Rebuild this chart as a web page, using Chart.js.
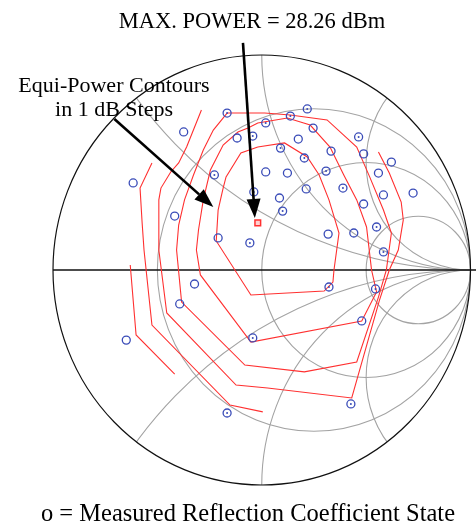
<!DOCTYPE html>
<html>
<head>
<meta charset="utf-8">
<script src="https://cdn.jsdelivr.net/npm/chart.js@4"></script>
<style>
  html, body { margin: 0; padding: 0; background: #fff; overflow: hidden; }
  canvas { display: block; }
</style>
</head>
<body>
<canvas id="smith" width="476" height="526"></canvas>
<script>
// Smith chart grid values
const resistances = [1 / 3, 1, 3];
const reactances = [0.5, 1, 2, -0.5, -1, -2];

// measured reflection coefficient states (Re, Im of gamma)
const measRe = [-0.166, -0.374, -0.118, -0.043, 0.019, 0.137, 0.218, 0.090, 0.175, 0.246,
  -0.616, -0.227, 0.019, 0.123, -0.038, 0.085, 0.100, -0.417, -0.209, -0.057,
  0.464, 0.332, 0.204, 0.488, 0.621, 0.308, 0.559, 0.213, 0.389, 0.583,
  0.725, 0.488, 0.318, 0.441, 0.550, 0.583, -0.322, -0.393, -0.649, -0.043,
  -0.166, 0.322, 0.545, 0.479, 0.427];
const measIm = [0.730, 0.642, 0.614, 0.623, 0.684, 0.716, 0.749, 0.567, 0.609, 0.660,
  0.405, 0.442, 0.456, 0.451, 0.363, 0.335, 0.274, 0.251, 0.149, 0.126,
  0.619, 0.553, 0.521, 0.540, 0.502, 0.460, 0.451, 0.377, 0.381, 0.349,
  0.358, 0.307, 0.167, 0.172, 0.200, 0.084, -0.065, -0.158, -0.326, -0.316,
  -0.665, -0.079, -0.088, -0.237, -0.623];
// states drawn with a centre dot
const dotted = [0, 3, 4, 5, 6, 7, 11, 14, 16, 19, 20, 22, 25, 28, 34, 35, 39, 40, 41, 42, 44];

// maximum power point
const maxRe = [-0.019];
const maxIm = [0.219];

// equi-power contours, 1 dB steps
const c1Re = [-0.019, 0.109, 0.218, 0.275, 0.322, 0.370, 0.346, 0.341, 0.299, -0.052, -0.218, -0.209, -0.185, -0.171, -0.100, -0.019];
const c1Im = [0.572, 0.591, 0.526, 0.442, 0.326, 0.172, 0.000, -0.056, -0.098, -0.116, 0.135, 0.279, 0.381, 0.433, 0.544, 0.572];
const c2Re = [-0.066, -0.019, 0.123, 0.232, 0.327, 0.393, 0.455, 0.502, 0.526, 0.550, 0.479, -0.052, -0.294, -0.313, -0.303, -0.280, -0.246, -0.185, -0.114, -0.066];
const c2Im = [0.660, 0.684, 0.707, 0.674, 0.572, 0.442, 0.326, 0.200, 0.000, -0.102, -0.237, -0.335, -0.023, 0.093, 0.186, 0.326, 0.465, 0.581, 0.642, 0.660];
const c3Re = [-0.166, 0.014, 0.137, 0.313, 0.455, 0.517, 0.583, 0.621, 0.597, 0.559, 0.455, 0.204, -0.081, -0.384, -0.408, -0.398, -0.370, -0.327, -0.280, -0.232, -0.166];
const c3Im = [0.730, 0.730, 0.721, 0.698, 0.572, 0.433, 0.279, 0.172, 0.000, -0.126, -0.428, -0.474, -0.442, -0.149, 0.093, 0.209, 0.326, 0.442, 0.558, 0.651, 0.730];
const c4Re = [-0.289, -0.360, -0.398, -0.436, -0.483, -0.493, -0.493, -0.455, -0.123, 0.028, 0.431, 0.564, 0.611, 0.654, 0.678, 0.668, 0.611, 0.559];
const c4Im = [0.744, 0.572, 0.498, 0.456, 0.381, 0.326, 0.093, -0.200, -0.535, -0.549, -0.595, -0.140, 0.000, 0.093, 0.233, 0.316, 0.451, 0.549];
const c5Re = [-0.526, -0.583, -0.573, -0.564, -0.526, -0.152, 0.005];
const c5Im = [0.498, 0.381, 0.219, 0.093, -0.256, -0.628, -0.660];
const c6Re = [-0.630, -0.602, -0.417];
const c6Im = [0.023, -0.302, -0.484];

// annotation arrows: [fromRe, fromIm, toRe, toIm]
const arrowMax = [-0.090, 1.056, -0.033, 0.242];
const arrowContours = [-0.706, 0.702, -0.232, 0.293];

const pts = (re, im) => re.map((v, i) => ({ x: v, y: im[i] }));

const RED = "#ff3030";
const BLUE = "#3a4cb8";
const SERIF = "'Liberation Serif', 'DejaVu Serif', serif";

const contourSet = (re, im) => ({
  type: "line", data: pts(re, im), borderColor: RED, borderWidth: 1.1,
  pointRadius: 0, fill: false, tension: 0, order: 3
});

const smithGrid = {
  id: "smithGrid",
  beforeDraw(chart) {
    const ctx = chart.ctx;
    ctx.save();
    ctx.fillStyle = "#fff";
    ctx.fillRect(0, 0, chart.width, chart.height);
    ctx.restore();
  },
  beforeDatasetsDraw(chart) {
    const { ctx, scales: { x, y } } = chart;
    const sx = x.getPixelForValue(1) - x.getPixelForValue(0);
    const sy = y.getPixelForValue(0) - y.getPixelForValue(1);
    const cx = x.getPixelForValue(0), cy = y.getPixelForValue(0);

    ctx.save();
    ctx.beginPath();
    ctx.ellipse(cx, cy, sx, sy, 0, 0, Math.PI * 2);
    ctx.clip();
    ctx.strokeStyle = "#a3a3a3";
    ctx.lineWidth = 1.1;
    resistances.forEach(r => {
      const c = r / (1 + r), rad = 1 / (1 + r);
      ctx.beginPath();
      ctx.ellipse(x.getPixelForValue(c), cy, rad * sx, rad * sy, 0, 0, Math.PI * 2);
      ctx.stroke();
    });
    reactances.forEach(xv => {
      const rad = 1 / Math.abs(xv);
      ctx.beginPath();
      ctx.ellipse(x.getPixelForValue(1), y.getPixelForValue(1 / xv), rad * sx, rad * sy, 0, 0, Math.PI * 2);
      ctx.stroke();
    });
    ctx.restore();

    ctx.save();
    ctx.strokeStyle = "#111";
    ctx.lineWidth = 1.2;
    ctx.beginPath();
    ctx.ellipse(cx, cy, sx, sy, 0, 0, Math.PI * 2);
    ctx.stroke();
    ctx.lineWidth = 1.4;
    ctx.beginPath();
    ctx.moveTo(x.getPixelForValue(-1), cy);
    ctx.lineTo(chart.width, cy);
    ctx.stroke();
    ctx.restore();
  },
  afterDraw(chart) {
    const { ctx, scales: { x, y } } = chart;

    const arrow = a => {
      const x0 = x.getPixelForValue(a[0]), y0 = y.getPixelForValue(a[1]);
      const x1 = x.getPixelForValue(a[2]), y1 = y.getPixelForValue(a[3]);
      const ang = Math.atan2(y1 - y0, x1 - x0);
      const len = 19, half = 7;
      const bx = x1 - len * Math.cos(ang), by = y1 - len * Math.sin(ang);
      ctx.beginPath();
      ctx.moveTo(x0, y0);
      ctx.lineTo(bx, by);
      ctx.stroke();
      ctx.beginPath();
      ctx.moveTo(x1, y1);
      ctx.lineTo(bx + half * Math.sin(ang), by - half * Math.cos(ang));
      ctx.lineTo(bx - half * Math.sin(ang), by + half * Math.cos(ang));
      ctx.closePath();
      ctx.fill();
    };

    ctx.save();
    ctx.strokeStyle = "#000";
    ctx.fillStyle = "#000";
    ctx.lineWidth = 2.6;
    arrow(arrowMax);
    arrow(arrowContours);

    ctx.textAlign = "center";
    ctx.textBaseline = "alphabetic";
    ctx.font = "22.5px " + SERIF;
    ctx.fillText("MAX. POWER = 28.26 dBm", 252, 28);
    ctx.font = "22px " + SERIF;
    ctx.fillText("Equi-Power Contours", 114, 92);
    ctx.fillText("in 1 dB Steps", 114, 116);
    ctx.font = "24.5px " + SERIF;
    ctx.fillText("o = Measured Reflection Coefficient State", 248, 521);
    ctx.restore();
  }
};

const plainIdx = measRe.map((_, i) => i);
const dotIdx = dotted;

new Chart(document.getElementById("smith"), {
  type: "scatter",
  data: {
    datasets: [
      contourSet(c1Re, c1Im),
      contourSet(c2Re, c2Im),
      contourSet(c3Re, c3Im),
      contourSet(c4Re, c4Im),
      contourSet(c5Re, c5Im),
      contourSet(c6Re, c6Im),
      {
        data: plainIdx.map(i => ({ x: measRe[i], y: measIm[i] })),
        pointStyle: "circle", pointRadius: 4, borderColor: BLUE, borderWidth: 1.3,
        backgroundColor: "rgba(0,0,0,0)", order: 1
      },
      {
        data: dotIdx.map(i => ({ x: measRe[i], y: measIm[i] })),
        pointStyle: "circle", pointRadius: 1, borderWidth: 0, backgroundColor: BLUE, order: 0
      },
      {
        data: pts(maxRe, maxIm),
        pointStyle: "rect", pointRadius: 4, borderColor: RED, borderWidth: 1.5,
        backgroundColor: "rgba(255,120,120,0.35)", order: 0
      }
    ]
  },
  options: {
    responsive: false,
    animation: false,
    devicePixelRatio: 1,
    layout: { padding: { left: 53, right: 1, top: 55, bottom: 41 } },
    scales: {
      x: { type: "linear", min: -1, max: 1, display: false },
      y: { type: "linear", min: -1, max: 1, display: false }
    },
    plugins: { legend: { display: false }, tooltip: { enabled: false } }
  },
  plugins: [smithGrid]
});
</script>
</body>
</html>
